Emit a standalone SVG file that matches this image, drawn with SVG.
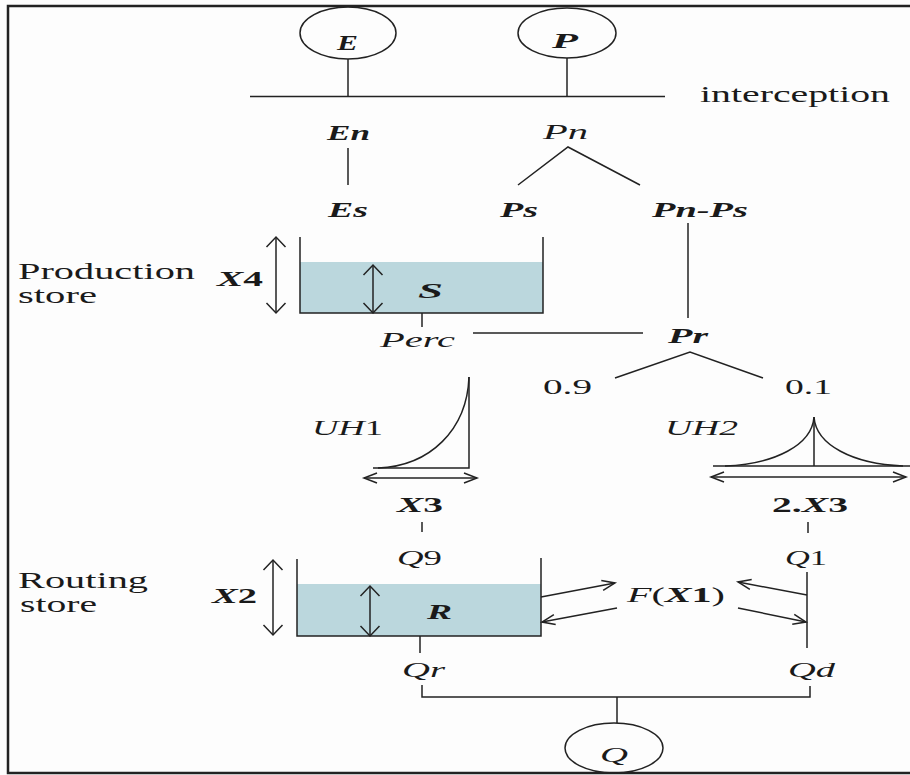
<svg xmlns="http://www.w3.org/2000/svg" width="910" height="775" viewBox="0 0 910 775">
<style>
.ln{fill:none;stroke:#222;stroke-width:1.5}
.t{font-family:"Liberation Serif","Times New Roman",serif;fill:#1a1a1a}
.i{font-style:italic;font-size:21px}
.bi{font-style:italic;font-weight:bold;font-size:21px}
.big{font-size:22px}
.r{font-size:23px}
.n{font-size:22px}
.up{font-style:normal}
.water{fill:#bbd7dd;stroke:none}
</style>
<defs>
<marker id="av" markerUnits="userSpaceOnUse" markerWidth="24" markerHeight="24" viewBox="-12 -12 24 24" refX="0" refY="0" orient="auto-start-reverse" overflow="visible">
<path d="M-10,-9.5 L0,0 L-10,9.5" fill="none" stroke="#222" stroke-width="1.5"/>
</marker>
<marker id="ah" markerUnits="userSpaceOnUse" markerWidth="24" markerHeight="24" viewBox="-12 -12 24 24" refX="0" refY="0" orient="auto-start-reverse" overflow="visible">
<path d="M-13,-5 L0,0 L-13,5" fill="none" stroke="#222" stroke-width="1.5"/>
</marker>
</defs>
<rect width="910" height="775" fill="#fdfdfd"/>
<g id="frame">
<path d="M912,6 H8 V773 H912" fill="none" stroke="#222" stroke-width="2.5"/>
</g>

<g id="node-E">
<ellipse class="ln" cx="348" cy="33" rx="48" ry="26"/>
<text class="t bi big" x="337" y="50" textLength="21" lengthAdjust="spacingAndGlyphs">E</text>
</g>
<g id="node-P">
<ellipse class="ln" cx="567" cy="33" rx="49" ry="25"/>
<text class="t bi big" x="552" y="48" textLength="26" lengthAdjust="spacingAndGlyphs">P</text>
</g>
<g id="interception">
<line class="ln" x1="250" y1="96.5" x2="665" y2="96.5"/>
<text class="t r" x="700" y="102" font-size="25" textLength="190" lengthAdjust="spacingAndGlyphs">interception</text>
</g>
<g id="node-En"><text class="t bi" x="327" y="140" textLength="43" lengthAdjust="spacingAndGlyphs">En</text></g>
<g id="node-Pn"><text class="t i" x="543" y="139" textLength="45" lengthAdjust="spacingAndGlyphs">Pn</text></g>
<g id="node-Es"><text class="t bi" x="328" y="217" textLength="40" lengthAdjust="spacingAndGlyphs">Es</text></g>
<g id="node-Ps"><text class="t bi" x="500" y="217" textLength="38" lengthAdjust="spacingAndGlyphs">Ps</text></g>
<g id="node-PnPs"><text class="t bi" x="652" y="217" textLength="96" lengthAdjust="spacingAndGlyphs">Pn-Ps</text></g>

<g id="production-store">
<rect class="water" x="300" y="262" width="243" height="51"/>
<path class="ln" d="M300,237 V313 H543 V237" stroke-width="2"/>
<line class="ln" x1="373" y1="265" x2="373" y2="313" marker-start="url(#av)" marker-end="url(#av)"/>
<line class="ln" x1="276" y1="237" x2="276" y2="313" marker-start="url(#av)" marker-end="url(#av)"/>
<text class="t r" x="18" y="279" textLength="177" lengthAdjust="spacingAndGlyphs">Production</text>
<text class="t r" x="18" y="303" textLength="79" lengthAdjust="spacingAndGlyphs">store</text>
<text class="t bi" x="217" y="286" textLength="46" lengthAdjust="spacingAndGlyphs">X<tspan class="up">4</tspan></text>
<text class="t bi" x="418" y="298" textLength="25" lengthAdjust="spacingAndGlyphs">S</text>
</g>
<g id="node-Perc"><text class="t i" x="380" y="347" textLength="75" lengthAdjust="spacingAndGlyphs">Perc</text></g>
<g id="node-Pr"><text class="t bi" x="668" y="343" textLength="40" lengthAdjust="spacingAndGlyphs">Pr</text></g>
<g id="node-09"><text class="t n" x="543" y="394" textLength="49" lengthAdjust="spacingAndGlyphs">0.9</text></g>
<g id="node-01"><text class="t n" x="785" y="394" textLength="47" lengthAdjust="spacingAndGlyphs">0.1</text></g>

<g id="uh1">
<path class="ln" d="M373,468 H469 V377"/>
<path class="ln" d="M378,468 C430,466 467,430 469,377"/>
<line class="ln" x1="364" y1="478" x2="477" y2="478" marker-start="url(#ah)" marker-end="url(#ah)"/>
<text class="t i" x="312" y="435" textLength="71" lengthAdjust="spacingAndGlyphs">UH<tspan class="up">1</tspan></text>
</g>
<g id="uh2">
<path class="ln" d="M713,466 H910 M814,466 V417"/>
<path class="ln" d="M725,466 C775,464 812,445 814,417 C816,445 853,464 903,466"/>
<line class="ln" x1="711" y1="477" x2="906" y2="477" marker-start="url(#ah)" marker-end="url(#ah)"/>
<text class="t i" x="665" y="435" textLength="73" lengthAdjust="spacingAndGlyphs">UH2</text>
</g>
<g id="node-X3"><text class="t bi" x="397" y="512" textLength="46" lengthAdjust="spacingAndGlyphs">X<tspan class="up">3</tspan></text></g>
<g id="node-2X3"><text class="t bi" x="772" y="512" textLength="76" lengthAdjust="spacingAndGlyphs"><tspan class="up">2.</tspan>X<tspan class="up">3</tspan></text></g>
<g id="node-Q9"><text class="t i" x="397" y="565" textLength="45" lengthAdjust="spacingAndGlyphs">Q<tspan class="up">9</tspan></text></g>
<g id="node-Q1"><text class="t i" x="785" y="565" textLength="42" lengthAdjust="spacingAndGlyphs">Q<tspan class="up">1</tspan></text></g>

<g id="routing-store">
<rect class="water" x="297" y="584" width="244" height="52"/>
<path class="ln" d="M297,559 V636 H541 V558" stroke-width="2"/>
<line class="ln" x1="370" y1="586" x2="370" y2="636" marker-start="url(#av)" marker-end="url(#av)"/>
<line class="ln" x1="273" y1="560" x2="273" y2="635" marker-start="url(#av)" marker-end="url(#av)"/>
<text class="t r" x="18" y="588" textLength="130" lengthAdjust="spacingAndGlyphs">Routing</text>
<text class="t r" x="20" y="612" textLength="77" lengthAdjust="spacingAndGlyphs">store</text>
<text class="t bi" x="212" y="603" textLength="45" lengthAdjust="spacingAndGlyphs">X<tspan class="up">2</tspan></text>
<text class="t bi" x="427" y="619" textLength="25" lengthAdjust="spacingAndGlyphs">R</text>
</g>
<g id="node-FX1"><text class="t i" x="627" y="602" textLength="98" lengthAdjust="spacingAndGlyphs">F<tspan class="up">(</tspan><tspan font-weight="bold">X</tspan><tspan class="up" font-weight="bold">1</tspan><tspan class="up">)</tspan></text></g>
<g id="node-Qr"><text class="t i" x="402" y="677" textLength="43" lengthAdjust="spacingAndGlyphs">Qr</text></g>
<g id="node-Qd"><text class="t i" x="788" y="677" textLength="47" lengthAdjust="spacingAndGlyphs">Qd</text></g>
<g id="node-Q">
<ellipse class="ln" cx="614" cy="748" rx="49" ry="25"/>
<text class="t i big" x="600" y="762" textLength="28" lengthAdjust="spacingAndGlyphs">Q</text>
</g>

<g id="connectors">
<line class="ln" x1="348" y1="59" x2="348" y2="96"/>
<line class="ln" x1="567" y1="58" x2="567" y2="96"/>
<line class="ln" x1="348" y1="148" x2="348" y2="185"/>
<path class="ln" d="M518,185 L568,147 L640,185"/>
<line class="ln" x1="688" y1="223" x2="688" y2="318"/>
<line class="ln" x1="422" y1="313" x2="422" y2="327"/>
<line class="ln" x1="473" y1="333" x2="643" y2="333"/>
<path class="ln" d="M615,378 L690,352 L763,378"/>
<line class="ln" x1="422" y1="522" x2="422" y2="532"/>
<line class="ln" x1="808" y1="522" x2="808" y2="533"/>
<line class="ln" x1="541" y1="597" x2="615" y2="583" marker-end="url(#ah)"/>
<line class="ln" x1="617" y1="608" x2="542" y2="622" marker-end="url(#ah)"/>
<line class="ln" x1="807" y1="572" x2="807" y2="648"/>
<line class="ln" x1="807" y1="595" x2="738" y2="582" marker-end="url(#ah)"/>
<line class="ln" x1="738" y1="608" x2="806" y2="622" marker-end="url(#ah)"/>
<line class="ln" x1="420" y1="636" x2="420" y2="653"/>
<path class="ln" d="M422,685 V697 H810 V686"/>
<line class="ln" x1="617" y1="697" x2="617" y2="723"/>
</g>
</svg>
